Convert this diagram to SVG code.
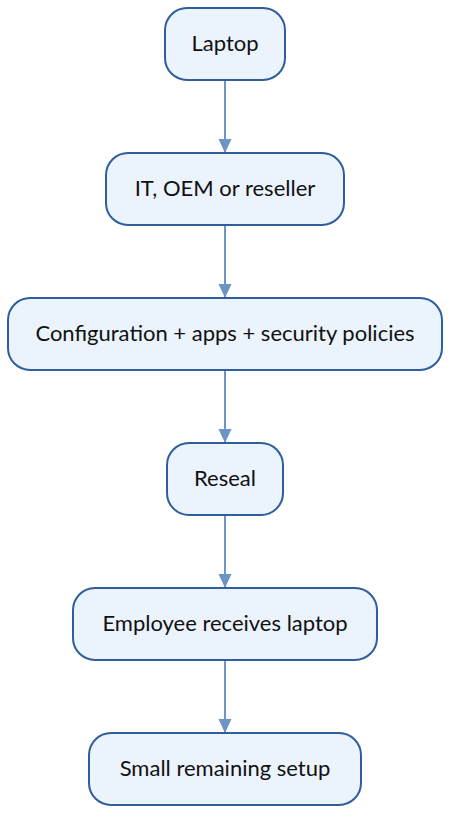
<svg xmlns="http://www.w3.org/2000/svg" width="450" height="813" viewBox="0 0 450 813">
<style>
.node rect{fill:#EBF3FC;stroke:#2F5E9E;stroke-width:2}
.node text{font-family:Lato,"Liberation Sans",sans-serif;font-size:22px;fill:#111;text-anchor:middle;dominant-baseline:central}
.edge{stroke:#6D94C6;stroke-width:2;fill:none}
</style>
<defs>
<marker id="ah" viewBox="0 0 14 14" markerWidth="14" markerHeight="14" refX="14" refY="7" orient="auto" markerUnits="userSpaceOnUse">
<path d="M0,0.5 L14,7 L0,13.5 z" fill="#6D94C6"/>
</marker>
</defs>
<g id="connectors">
<line class="edge" x1="225" y1="80" x2="225" y2="153" marker-end="url(#ah)"/>
<line class="edge" x1="225" y1="226" x2="225" y2="298" marker-end="url(#ah)"/>
<line class="edge" x1="225" y1="371" x2="225" y2="443" marker-end="url(#ah)"/>
<line class="edge" x1="225" y1="516" x2="225" y2="588" marker-end="url(#ah)"/>
<line class="edge" x1="225" y1="661" x2="225" y2="733" marker-end="url(#ah)"/>
</g>
<g id="n1" class="node"><rect x="165" y="8" width="120" height="72" rx="22"/><text x="225" y="42">Laptop</text></g>
<g id="n2" class="node"><rect x="106" y="153" width="238" height="72" rx="22"/><text x="225" y="187">IT, OEM or reseller</text></g>
<g id="n3" class="node"><rect x="8" y="298" width="434" height="72" rx="22"/><text x="225" y="332">Configuration + apps + security policies</text></g>
<g id="n4" class="node"><rect x="167" y="443" width="116" height="72" rx="22"/><text x="225" y="477">Reseal</text></g>
<g id="n5" class="node"><rect x="73" y="588" width="304" height="72" rx="22"/><text x="225" y="622">Employee receives laptop</text></g>
<g id="n6" class="node"><rect x="89" y="733" width="272" height="72" rx="22"/><text x="225" y="767">Small remaining setup</text></g>
</svg>
